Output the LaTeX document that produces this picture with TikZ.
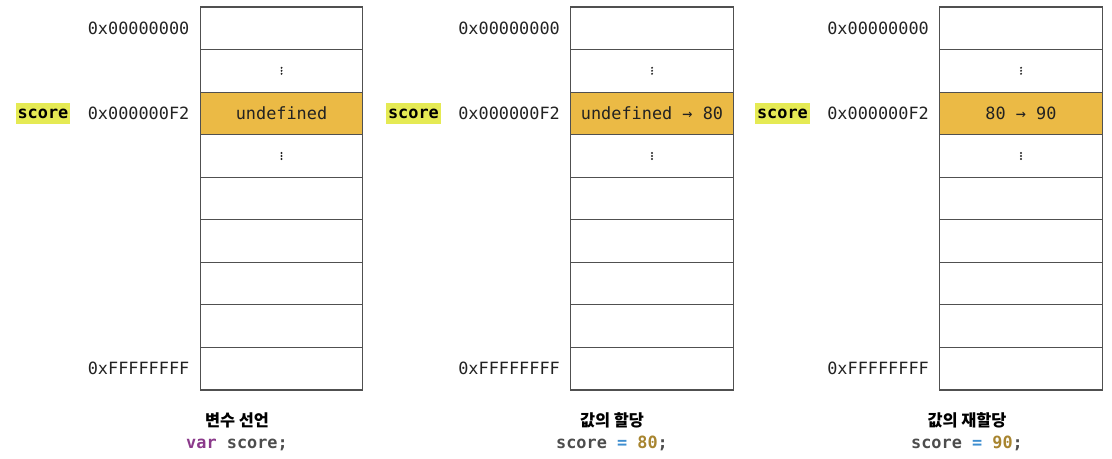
\documentclass[tikz,border=0pt]{standalone}
\usepackage{fontspec}
\setmonofont{DejaVu Sans Mono}
\newfontfamily\krfont{Noto Sans CJK KR}
\usetikzlibrary{positioning}

\definecolor{cellfill}{RGB}{235,186,69}
\definecolor{cellline}{RGB}{80,80,80}
\definecolor{varhl}{RGB}{229,234,84}
\definecolor{textdark}{RGB}{34,34,34}
\definecolor{codegray}{RGB}{77,77,77}
\definecolor{kwpurple}{RGB}{139,58,139}
\definecolor{opblue}{RGB}{62,142,208}
\definecolor{numgold}{RGB}{168,133,48}

\newcommand\monosz{\ttfamily\fontsize{9.6}{11}\selectfont}

\tikzset{
  cell/.style={draw=cellline, line width=0.65pt, minimum width=3.25cm,
    minimum height=0.851cm, inner sep=0pt, font=\monosz, text=textdark},
  addr/.style={inner sep=0pt, font=\monosz, text=textdark},
  varname/.style={fill=varhl, inner xsep=1pt, minimum height=0.42cm,
    font=\monosz\bfseries, text=black},
  caption/.style={inner sep=0pt, anchor=base, font=\krfont\bfseries\fontsize{9.3}{11}\selectfont},
  code/.style={inner sep=0pt, anchor=base, font=\monosz\bfseries, text=codegray},
  vdot/.style={fill=textdark},
}

\begin{document}
\begin{tikzpicture}[x=0.02cm, y=-0.02cm]
    \useasboundingbox (0,0) rectangle (1112,459);

    % memory columns
    \foreach \c/\cx/\val in {1/281.5/undefined, 2/652/{undefined → 80}, 3/1021/{80 → 90}} {
        \foreach \r in {0,1,3,4,5,6,7,8}
            \node[cell] (m\c-\r) at (\cx, 28.3+42.55*\r) {};
        \node[cell, fill=cellfill] (v\c) at (\cx, 28.3+42.55*2) {\val}; %score cell
        % vertical dots
        \foreach \r in {1,3}
            \foreach \d in {-3,0,3}
                \fill[vdot] (m\c-\r) ++(0,\d) circle (1.1);
        % addresses
        \node[addr, left=0.2cm of m\c-0] (a\c-0) {0x00000000};
        \node[addr, left=0.2cm of v\c] (a\c-2) {0x000000F2};
        \node[addr, left=0.2cm of m\c-8] (a\c-8) {0xFFFFFFFF};
        \node[varname, left=0.34cm of a\c-2] (s\c) {score};
    }

    % captions
    \node[caption] (t1) at (237,426) {변수 선언};
    \node[code] (k1) at (237,448) {\textcolor{kwpurple}{var} score;};

    \node[caption] (t2) at (612,426) {값의 할당};
    \node[code] (k2) at (612,448) {score \textcolor{opblue}{=} \textcolor{numgold}{80};};

    \node[caption] (t3) at (967,426) {값의 재할당};
    \node[code] (k3) at (967,448) {score \textcolor{opblue}{=} \textcolor{numgold}{90};};

\end{tikzpicture}
\end{document}
